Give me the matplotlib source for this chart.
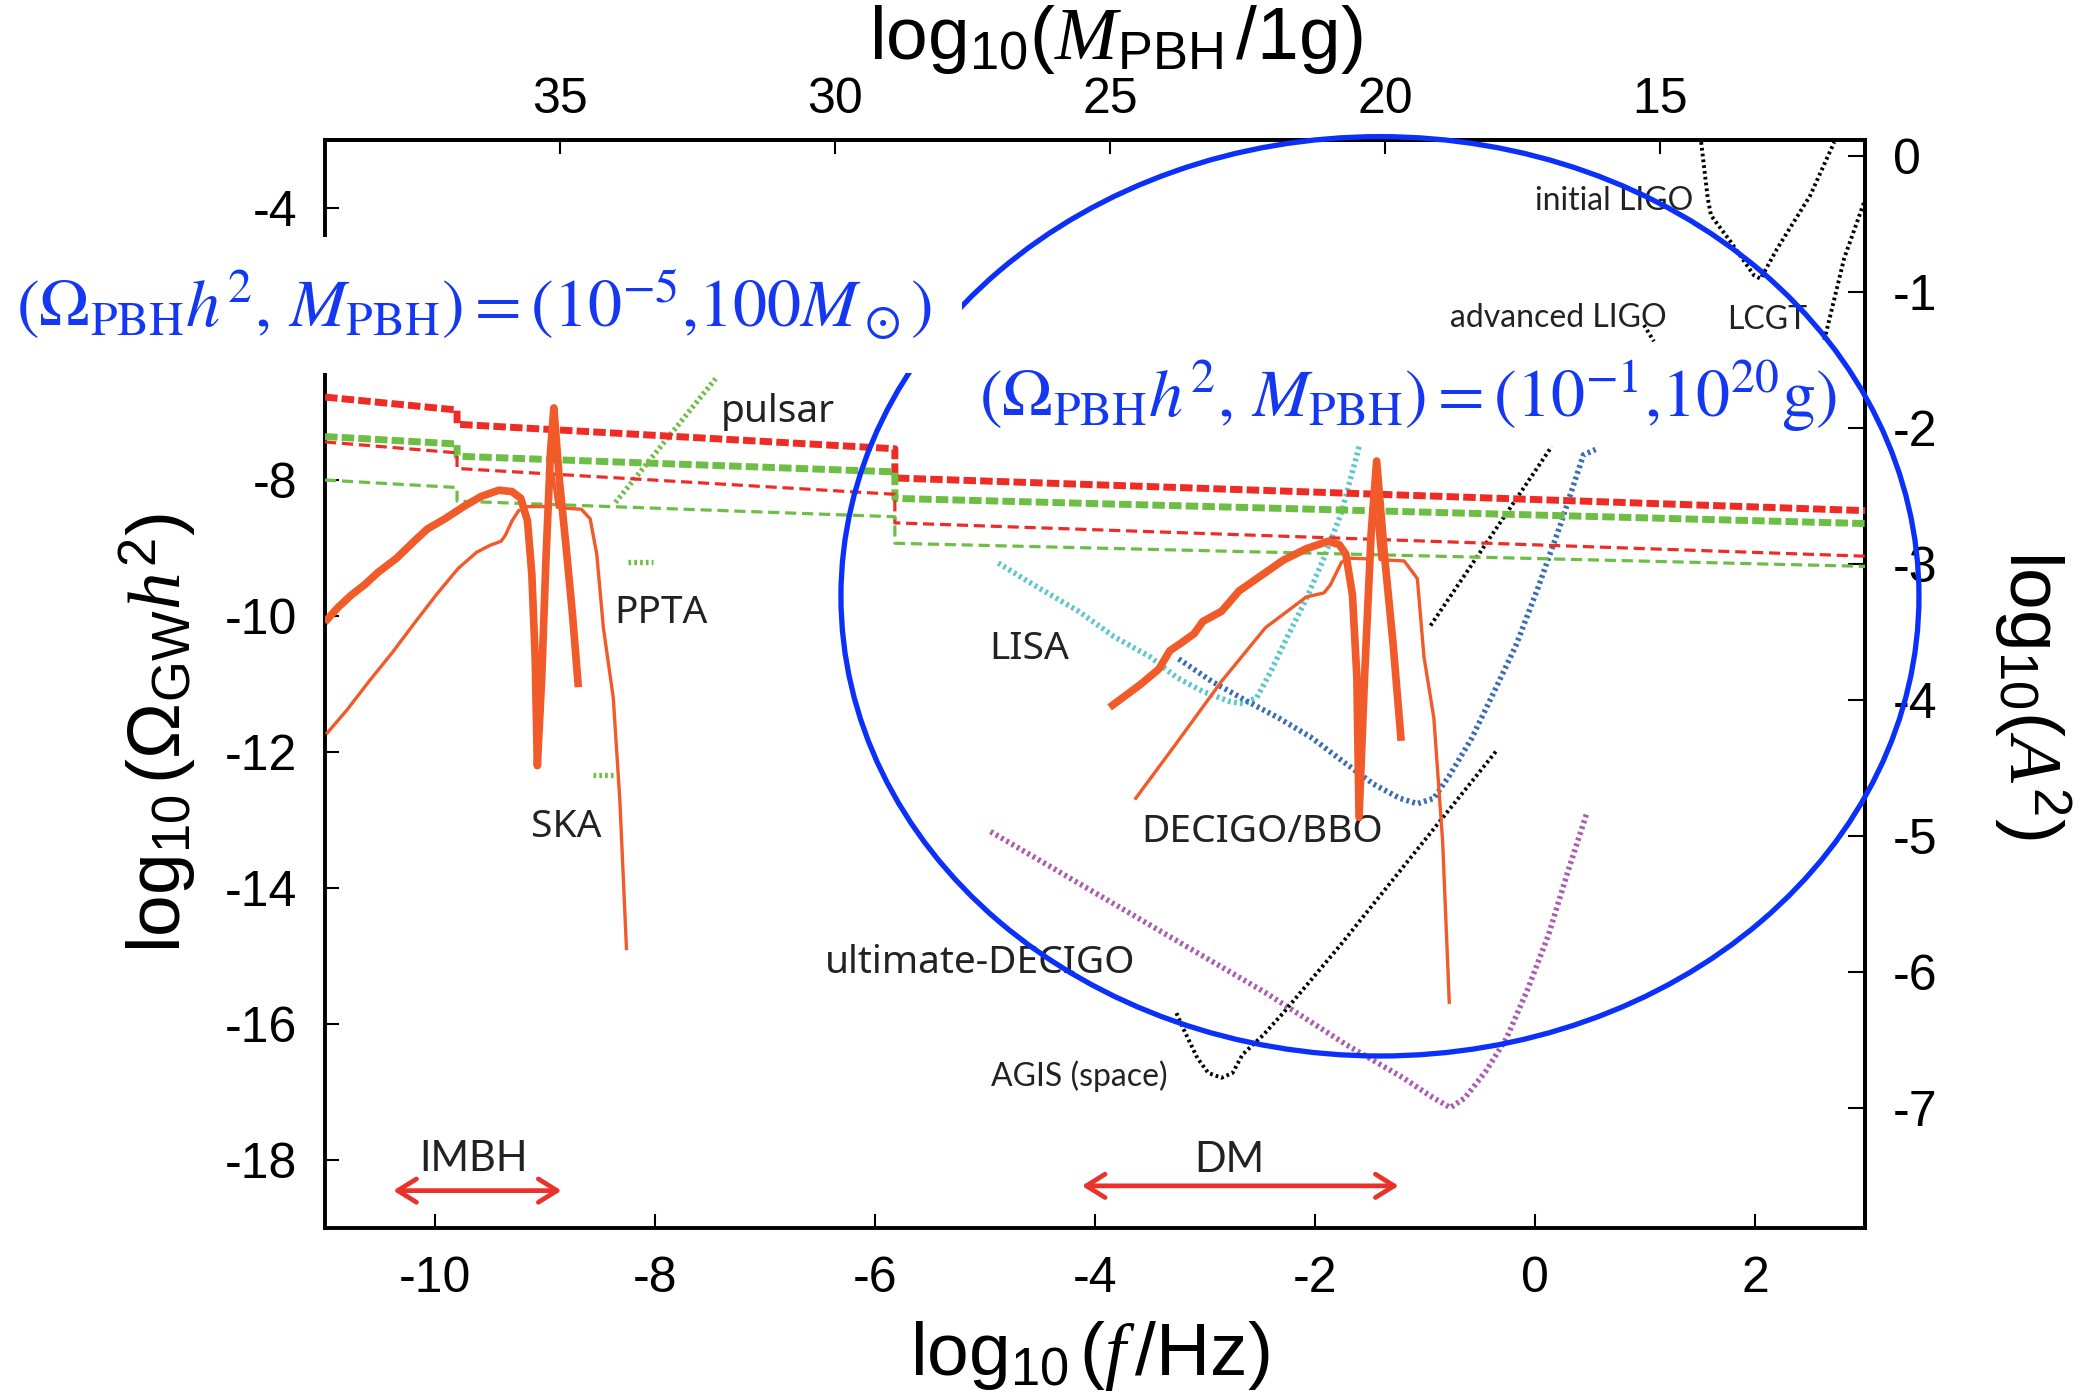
import matplotlib
matplotlib.use("Agg")
from matplotlib import pyplot as plt
from matplotlib import font_manager as fm
from matplotlib.patches import Ellipse

# ---------------- axis ticks ----------------
f_ticks = [-10, -8, -6, -4, -2, 0, 2]
omega_ticks = [-4, -6, -8, -10, -12, -14, -16, -18]
omega_labels = ['-4', '', '-8', '-10', '-12', '-14', '-16', '-18']  # -6 sits under the blue note
mass_ticks = [35, 30, 25, 20, 15]
amp_ticks = [0, -1, -2, -3, -4, -5, -6, -7]

# log10(M/1g) = MASS_AT_1HZ - 2 log10(f/Hz),  log10(Omega h^2) = 2 log10(A^2) + OMEGA_AT_A1
MASS_AT_1HZ = 17.27
OMEGA_AT_A1 = -3.24

# ---------------- upper limits (step lines) ----------------
limit_x = [-11.0, -9.8, -9.8, -5.82, -5.82, 3.0]
red_thick = [-6.78, -6.97, -7.18, -7.54, -7.97, -8.45]
green_thick = [-7.36, -7.47, -7.65, -7.88, -8.27, -8.64]
red_thin = [-7.44, -7.60, -7.83, -8.21, -8.63, -9.12]
green_thin = [-8.00, -8.11, -8.31, -8.54, -8.93, -9.27]

# ---------------- PBH induced GW spectra ----------------
imbh_thick_x = [-10.98, -10.88, -10.76, -10.64, -10.52, -10.35, -10.19, -10.07, -9.91, -9.74,
                -9.58, -9.42, -9.30, -9.22, -9.16, -9.12, -9.09, -9.07, -9.03, -8.99,
                -8.95, -8.92, -8.87, -8.81, -8.75, -8.70]
imbh_thick_y = [-10.05, -9.87, -9.69, -9.54, -9.36, -9.15, -8.90, -8.72, -8.57, -8.39,
                -8.24, -8.15, -8.17, -8.27, -8.60, -9.39, -10.60, -12.20, -10.90, -9.09,
                -7.57, -6.94, -8.00, -8.96, -9.99, -10.99]
imbh_thin_x = [-10.98, -10.80, -10.60, -10.39, -10.19, -9.99, -9.79, -9.62, -9.50, -9.40,
               -9.36, -9.30, -9.24, -9.16, -9.01, -8.97, -8.93, -8.89, -8.85, -8.67,
               -8.59, -8.53, -8.47, -8.38, -8.32, -8.26]
imbh_thin_y = [-11.72, -11.38, -10.96, -10.54, -10.11, -9.69, -9.30, -9.06, -8.96, -8.90,
               -8.81, -8.60, -8.45, -8.39, -8.39, -8.39, -7.90, -8.40, -8.41, -8.43,
               -8.57, -9.09, -10.17, -11.20, -12.71, -14.89]

dm_thick_x = [-3.84, -3.59, -3.42, -3.32, -3.22, -3.10, -3.02, -2.85, -2.69, -2.53,
              -2.29, -2.08, -1.88, -1.78, -1.72, -1.66, -1.62, -1.60, -1.55, -1.49,
              -1.44, -1.37, -1.29, -1.22]
dm_thick_y = [-11.31, -11.01, -10.78, -10.51, -10.40, -10.26, -10.08, -9.93, -9.63, -9.45,
              -9.18, -9.01, -8.90, -8.95, -9.09, -9.69, -10.90, -12.96, -10.90, -8.78,
              -7.72, -9.09, -10.42, -11.78]
dm_thin_x = [-3.63, -3.26, -2.85, -2.45, -2.08, -1.92, -1.86, -1.76, -1.68, -1.51,
             -1.45, -1.41, -1.19, -1.07, -1.01, -0.92, -0.84, -0.78]
dm_thin_y = [-12.68, -11.87, -10.96, -10.17, -9.72, -9.66, -9.54, -9.21, -9.15, -9.16,
             -8.48, -9.17, -9.19, -9.45, -10.60, -11.50, -13.32, -15.68]

# ---------------- detector sensitivities ----------------
pulsar_x = [-8.36, -7.45]
pulsar_y = [-8.33, -6.51]
ppta_x = [-8.25, -8.02]
ppta_y = [-9.20, -9.20]
ska_x = [-8.56, -8.36]
ska_y = [-12.34, -12.34]

lisa_x = [-4.88, -4.56, -4.15, -3.83, -3.50, -3.26, -3.02, -2.77, -2.65, -2.53,
          -2.41, -2.25, -2.08, -1.92, -1.76, -1.60]
lisa_y = [-9.22, -9.54, -9.93, -10.30, -10.60, -10.90, -11.11, -11.26, -11.29, -11.20,
          -10.84, -10.30, -9.75, -9.15, -8.48, -7.51]

decigo_x = [-3.24, -2.94, -2.61, -2.33, -2.04, -1.72, -1.47, -1.23, -1.07, -0.92,
            -0.78, -0.58, -0.38, -0.17, 0.03, 0.23, 0.44, 0.55]
decigo_y = [-10.63, -10.96, -11.26, -11.50, -11.78, -12.17, -12.47, -12.68, -12.76, -12.68,
            -12.35, -11.81, -11.14, -10.42, -9.57, -8.66, -7.63, -7.55]

udecigo_x = [-4.95, -2.45, -1.71, -1.20, -0.95, -0.77, -0.64, -0.45, -0.26, -0.07,
             0.12, 0.30, 0.47]
udecigo_y = [-13.17, -15.54, -16.31, -16.79, -17.06, -17.23, -17.09, -16.70, -16.21, -15.50,
             -14.70, -13.75, -12.90]

agis_x = [-3.26, -3.20, -3.07, -2.97, -2.85, -2.75, -2.66, -2.47, -2.28, -1.77, -0.34]
agis_y = [-15.84, -16.06, -16.50, -16.72, -16.79, -16.72, -16.45, -16.16, -15.82, -14.84, -11.96]

black_seg_x = [-0.95, 0.15]
black_seg_y = [-10.14, -7.51]

iligo_x = [1.51, 1.57, 1.60, 1.78, 1.99, 2.05, 2.20, 2.50, 2.72]
iligo_y = [-3.03, -3.86, -4.11, -4.50, -4.99, -5.04, -4.60, -3.82, -3.03]
aligo_x = [0.99, 1.08]
aligo_y = [-5.72, -5.96]
lcgt_x = [2.63, 2.81, 2.99]
lcgt_y = [-5.94, -4.74, -3.92]

# ---------------- annotations ----------------
ellipse_center = (-1.41, -9.71)
ellipse_size = (9.8, 13.52)
imbh_range = [-10.38, -8.85]
dm_range = [-4.12, -1.24]
range_y = [-18.45, -18.38]

label_text = ["pulsar", "PPTA", "SKA", "LISA", "DECIGO/BBO", "ultimate-DECIGO"]
label_pos = [(-7.40, -7.0), (-8.37, -9.95), (-9.13, -13.1), (-4.96, -10.48),
             (-3.58, -13.18), (-6.46, -15.1)]
small_text = ["initial LIGO", "advanced LIGO", "LCGT", "AGIS (space)", "IMBH", "DM"]
small_pos = [(0.0, -3.9), (-0.77, -5.62), (1.75, -5.64), (-4.95, -16.77),
             (-9.65, -17.98), (-2.78, -18.0)]

RED = '#EE2B25'
GREEN = '#6DBE45'
ORANGE = '#F15A29'
CYAN = '#5CC6CE'
STEEL = '#3A6CB4'
PURPLE = '#AA5CB2'
BLUE = '#1438F2'

plt.rcParams['axes.unicode_minus'] = False
plt.rcParams['font.family'] = 'Liberation Sans'
plt.rcParams['mathtext.fontset'] = 'custom'
plt.rcParams['mathtext.rm'] = 'Liberation Sans'
plt.rcParams['mathtext.it'] = 'Liberation Serif:italic'
plt.rcParams['mathtext.sf'] = 'Liberation Sans'

installed = {f.name for f in fm.fontManager.ttflist}
narrow = 'Liberation Sans Narrow' if 'Liberation Sans Narrow' in installed else 'Lato'

fig = plt.figure(figsize=(20.89, 13.92), dpi=100)
ax = fig.add_axes([0.1556, 0.1178, 0.7372, 0.7816])
ax.set_xlim(-11, 3)
ax.set_ylim(-19, -3)

# upper limits
ax.plot(limit_x, red_thick, color=RED, lw=5.0, ls=(0, (1.8, 0.6)), zorder=3)
ax.plot(limit_x, green_thick, color=GREEN, lw=5.0, ls=(0, (1.8, 0.6)), zorder=3)
ax.plot(limit_x, red_thin, color=RED, lw=2.3, ls=(0, (3.5, 1.8)), zorder=3)
ax.plot(limit_x, green_thin, color=GREEN, lw=2.3, ls=(0, (3.5, 1.8)), zorder=3)

# spectra
ax.plot(imbh_thick_x, imbh_thick_y, color=ORANGE, lw=5.5, zorder=4)
ax.plot(imbh_thin_x, imbh_thin_y, color=ORANGE, lw=2.4, zorder=4)
ax.plot(dm_thick_x, dm_thick_y, color=ORANGE, lw=5.5, zorder=4)
ax.plot(dm_thin_x, dm_thin_y, color=ORANGE, lw=2.4, zorder=4)

# detectors
dots = (0, (0.5, 0.6))
ax.plot(pulsar_x, pulsar_y, color=GREEN, lw=3.8, ls=dots, zorder=2)
ax.plot(ppta_x, ppta_y, color=GREEN, lw=3.8, ls=dots, zorder=2)
ax.plot(ska_x, ska_y, color=GREEN, lw=3.8, ls=dots, zorder=2)
ax.plot(lisa_x, lisa_y, color=CYAN, lw=4.0, ls=dots, zorder=2)
ax.plot(decigo_x, decigo_y, color=STEEL, lw=4.0, ls=dots, zorder=2)
ax.plot(udecigo_x, udecigo_y, color=PURPLE, lw=4.0, ls=dots, zorder=2)
bdots = (0, (0.7, 0.8))
for xs, ys in [(agis_x, agis_y), (black_seg_x, black_seg_y), (iligo_x, iligo_y),
               (aligo_x, aligo_y), (lcgt_x, lcgt_y)]:
    ax.plot(xs, ys, color='black', lw=2.8, ls=bdots, zorder=2)

for t, (x, y) in zip(label_text, label_pos):
    ax.text(x, y, t, fontsize=28, family='Noto Sans', color='#222222', ha='left', va='center')
for t, (x, y) in zip(small_text[:4], small_pos[:4]):
    ax.text(x, y, t, fontsize=23, family=narrow, color='#222222', ha='left', va='center')
for t, (x, y) in zip(small_text[4:], small_pos[4:]):
    ax.text(x, y, t, fontsize=30, family=narrow, color='#222222', ha='center', va='center')

for rng, y in zip([imbh_range, dm_range], range_y):
    ax.annotate('', xy=(rng[1], y), xytext=(rng[0], y),
                arrowprops=dict(arrowstyle='<->,head_length=0.45,head_width=0.28',
                                color='#E8322A', lw=3.4, shrinkA=0, shrinkB=0,
                                mutation_scale=30))

ax.add_patch(Ellipse(ellipse_center, ellipse_size[0], ellipse_size[1], fill=False,
                     ec='#0A30FA', lw=3.8, clip_on=False, zorder=6))

# axes cosmetics
for s in ax.spines.values():
    s.set_linewidth(2.8)
ax.set_xticks(f_ticks)
ax.set_yticks(omega_ticks, omega_labels)
ax.tick_params(direction='in', length=10, width=1.5, labelsize=36)
ax.tick_params(axis='x', pad=20)
ax.tick_params(axis='y', pad=20)

secx = ax.secondary_xaxis('top', functions=(lambda x: MASS_AT_1HZ - 2 * x,
                                            lambda m: (MASS_AT_1HZ - m) / 2))
secx.set_xticks(mass_ticks)
secx.tick_params(direction='in', length=10, width=1.5, labelsize=36, pad=12)
secx.spines['top'].set_linewidth(2.8)

secy = ax.secondary_yaxis('right', functions=(lambda y: (y - OMEGA_AT_A1) / 2,
                                              lambda a: 2 * a + OMEGA_AT_A1))
secy.set_yticks(amp_ticks)
secy.tick_params(direction='in', length=12, width=1.5, labelsize=36, pad=20)
secy.spines['right'].set_linewidth(2.8)

# axis titles
fig.text(1090 / 2089, 1 - 1356 / 1392, r'log$_{10}\,$($f\,$/Hz)', fontsize=54, ha='center', va='center')
fig.text(158 / 2089, 1 - 733 / 1392, r'log$_{10}\,$($\Omega_{\mathrm{GW}}h^2$)', fontsize=54,
         rotation=90, ha='center', va='center')
fig.text(1116 / 2089, 1 - 40 / 1392, r'log$_{10}$($M_{\mathrm{PBH}}\,$/1g)', fontsize=54,
         ha='center', va='center')
fig.text(2032 / 2089, 1 - 695 / 1392, r'log$_{10}$($A^2$)', fontsize=54,
         rotation=270, ha='center', va='center')

fig.text(16 / 2089, 1 - 305 / 1392,
         r'$(\Omega_{\rm PBH}h^2,\, M_{\rm PBH}) = (10^{-5}{,}100M_\odot)$',
         math_fontfamily='stix', fontsize=49, color=BLUE, ha='left', va='center', zorder=5,
         bbox=dict(facecolor='white', edgecolor='none', boxstyle='square,pad=0.45'))
fig.text(979 / 2089, 1 - 396 / 1392,
         r'$(\Omega_{\rm PBH}h^2,\, M_{\rm PBH}) = (10^{-1}{,}10^{20}{\rm g})$',
         math_fontfamily='stix', fontsize=49, color=BLUE, ha='left', va='center', zorder=5)

fig.savefig('out.png', dpi=100)
